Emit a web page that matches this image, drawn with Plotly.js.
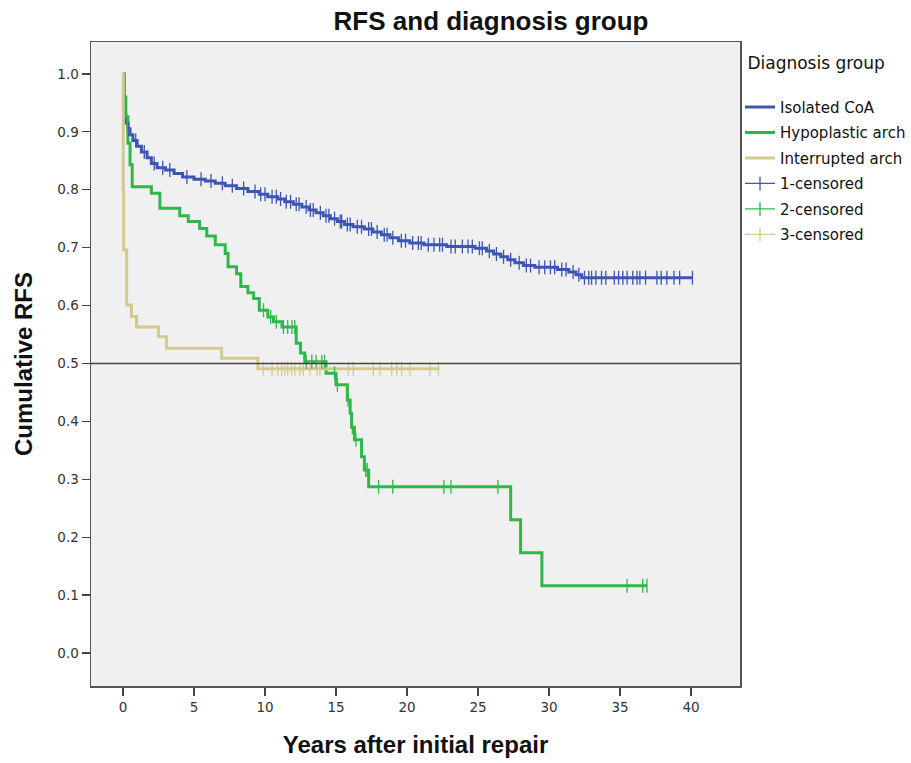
<!DOCTYPE html>
<html>
<head>
<meta charset="utf-8">
<script src="https://cdn.plot.ly/plotly-3.0.1.min.js"></script>
<style>html,body{margin:0;padding:0;background:#fff;}#chart{width:911px;height:763px;}</style>
</head>
<body>
<div id="chart"></div>
<script>
// ---- Data ----
const groupNames = ["Isolated CoA", "Hypoplastic arch", "Interrupted arch"];
const censorNames = ["1-censored", "2-censored", "3-censored"];

// Isolated CoA: step times (years) and cumulative RFS after each step
const coaTimes = [0, 0.05, 0.1, 0.2, 0.35, 0.5, 0.7, 1.0, 1.3, 1.7, 2.0, 2.4, 3.0, 3.6, 4.2, 5.0, 5.8, 6.5, 7.2, 8.0, 8.8, 9.6, 10.2, 10.9, 11.4, 12.0, 12.6, 13.1, 13.6, 14.1, 14.6, 15.1, 15.6, 16.2, 17.0, 17.6, 18.2, 18.8, 19.4, 20.2, 21.2, 22.8, 24.8, 25.6, 26.1, 26.6, 27.1, 27.6, 28.2, 29.0, 30.6, 31.4, 31.9, 32.3, 40.1];
const coaRFS = [1.0, 0.95, 0.93, 0.915, 0.905, 0.895, 0.885, 0.875, 0.865, 0.855, 0.845, 0.838, 0.834, 0.828, 0.822, 0.818, 0.815, 0.811, 0.807, 0.802, 0.797, 0.792, 0.788, 0.784, 0.779, 0.775, 0.770, 0.765, 0.760, 0.755, 0.750, 0.745, 0.740, 0.736, 0.732, 0.727, 0.722, 0.717, 0.712, 0.708, 0.705, 0.702, 0.699, 0.694, 0.689, 0.684, 0.679, 0.674, 0.669, 0.666, 0.662, 0.658, 0.653, 0.648, 0.648];
const coaCensored = [0.4, 0.9, 1.5, 2.2, 2.8, 3.3, 4.5, 5.5, 6.2, 7.0, 7.7, 8.5, 9.3, 9.7, 10.0, 10.5, 10.8, 11.1, 11.5, 11.8, 12.2, 12.4, 12.9, 13.2, 13.4, 13.9, 14.3, 14.5, 14.9, 15.3, 15.4, 15.8, 16.0, 16.5, 16.8, 17.3, 17.5, 17.9, 18.4, 18.6, 19.0, 19.6, 19.9, 20.4, 20.8, 21.0, 21.5, 21.9, 22.3, 22.5, 23.1, 23.4, 23.9, 24.3, 24.6, 25.1, 25.3, 25.8, 26.3, 26.8, 27.3, 27.9, 28.4, 28.7, 29.3, 29.7, 30.1, 30.4, 30.9, 31.2, 31.7, 32.1, 32.5, 32.8, 33.0, 33.3, 33.7, 34.0, 34.6, 34.9, 35.2, 35.5, 35.9, 36.2, 36.4, 36.8, 37.6, 37.9, 38.3, 38.8, 39.2, 40.1];

// Hypoplastic arch
const hypoTimes = [0, 0.1, 0.2, 0.35, 0.5, 0.65, 2.0, 2.6, 4.0, 4.6, 5.4, 5.9, 6.5, 7.2, 7.4, 8.0, 8.3, 8.8, 9.2, 9.6, 10.2, 10.6, 11.2, 12.2, 12.5, 12.8, 14.3, 15.0, 15.8, 16.0, 16.1, 16.3, 16.8, 17.0, 17.3, 27.3, 28.0, 29.5, 36.9];
const hypoRFS = [1.0, 0.96, 0.926, 0.88, 0.843, 0.805, 0.794, 0.768, 0.755, 0.745, 0.733, 0.720, 0.705, 0.690, 0.667, 0.655, 0.633, 0.622, 0.612, 0.592, 0.580, 0.572, 0.563, 0.535, 0.518, 0.503, 0.483, 0.463, 0.437, 0.414, 0.390, 0.368, 0.339, 0.316, 0.287, 0.230, 0.173, 0.116, 0.116];
const hypoCensored = [9.9, 10.4, 10.8, 11.3, 11.6, 11.9, 12.1, 12.9, 13.3, 13.6, 14.0, 14.2, 14.9, 15.1, 15.85, 16.15, 16.4, 17.1, 17.2, 18.0, 19.0, 22.6, 23.1, 26.4, 35.5, 36.6, 36.9];

// Interrupted arch
const iaaTimes = [0, 0.02, 0.05, 0.26, 0.6, 0.96, 2.5, 3.07, 6.95, 9.5, 22.3];
const iaaRFS = [1.0, 0.80, 0.696, 0.601, 0.581, 0.563, 0.546, 0.526, 0.509, 0.491, 0.491];
const iaaCensored = [9.88, 10.5, 10.9, 11.18, 11.41, 11.6, 11.88, 12.11, 12.46, 12.7, 13.17, 13.68, 13.87, 15.87, 16.22, 17.63, 18.1, 18.92, 19.28, 19.63, 20.21, 21.62, 22.21];

const xTicks = [0, 5, 10, 15, 20, 25, 30, 35, 40];
const yTicks = [0.0, 0.1, 0.2, 0.3, 0.4, 0.5, 0.6, 0.7, 0.8, 0.9, 1.0];

// ---- Styling ----
const colors = ["#3c56b2", "#2fb84a", "#d4c991"];
const boldFont = "Liberation Sans, Arial, sans-serif";
const textFont = "DejaVu Sans, Verdana, sans-serif";

function stepValue(times, vals, t) {
  let v = vals[0];
  for (let i = 0; i < times.length; i++) { if (times[i] <= t) v = vals[i]; }
  return v;
}
function censorXY(times, vals, cens) {
  const x = [], y = [];
  cens.forEach(t => { x.push(t, null); y.push(stepValue(times, vals, t), null); });
  return {x, y};
}

const curves = [[coaTimes, coaRFS, coaCensored], [hypoTimes, hypoRFS, hypoCensored], [iaaTimes, iaaRFS, iaaCensored]];
const traces = [];
curves.forEach((c, i) => {
  traces.push({
    type: "scatter", mode: "lines", x: c[0], y: c[1], name: groupNames[i],
    line: {shape: "hv", color: colors[i], width: 3}, legendgroup: "g" + i, hoverinfo: "x+y"
  });
});
curves.forEach((c, i) => {
  const cy = censorXY(c[0], c[1], c[2]);
  traces.push({
    type: "scatter", mode: "lines+markers", x: cy.x, y: cy.y, name: censorNames[i],
    connectgaps: false,
    line: {color: colors[i], width: 1.3},
    marker: {symbol: "line-ns", size: 10, line: {color: colors[i], width: 1.3}, color: colors[i]},
    legendgroup: "c" + i
  });
});

const layout = {
  width: 911, height: 763,
  paper_bgcolor: "#ffffff", plot_bgcolor: "#f0f0f0",
  font: {family: textFont, color: "#222", size: 13},
  margin: {l: 91, r: 171, t: 42, b: 77, autoexpand: false},
  title: {text: "<b>RFS and diagnosis group</b>", font: {family: boldFont, size: 26, color: "#111"}, x: 0.539, xref: "container", xanchor: "center", y: 0.973, yref: "container", yanchor: "middle"},
  xaxis: {
    range: [-2.25, 43.45], tickvals: xTicks, ticktext: xTicks.map(String),
    ticks: "outside", ticklen: 8, tickwidth: 1.3, tickcolor: "#444",
    showline: true, linecolor: "#555", linewidth: 1.5, mirror: true,
    showgrid: false, zeroline: false,
    tickfont: {family: textFont, size: 13.5, color: "#333"},
    title: {text: "<b>Years after initial repair</b>", font: {family: boldFont, size: 24, color: "#111"}, standoff: 22}
  },
  yaxis: {
    range: [-0.057, 1.055], tickvals: yTicks, ticktext: yTicks.map(v => v.toFixed(1)),
    ticks: "outside", ticklen: 8, tickwidth: 1.3, tickcolor: "#444",
    showline: true, linecolor: "#555", linewidth: 1.5, mirror: true,
    showgrid: false, zeroline: false,
    tickfont: {family: textFont, size: 13.5, color: "#333"},
    title: {text: "<b>Cumulative RFS</b>", font: {family: boldFont, size: 24, color: "#111"}, standoff: 18}
  },
  shapes: [{type: "line", xref: "paper", yref: "y", x0: 0, x1: 1, y0: 0.5, y1: 0.5, line: {color: "#444", width: 1.5}}],
  legend: {
    x: 1.0, xanchor: "left", y: 0.993, yanchor: "top",
    bgcolor: "rgba(0,0,0,0)", traceorder: "grouped", tracegroupgap: 3,
    font: {family: textFont, size: 15, color: "#111"},
    title: {text: "&nbsp;Diagnosis group<br> ", font: {family: textFont, size: 17, color: "#111"}, side: "top"},
    itemwidth: 30
  },
  showlegend: true
};

Plotly.newPlot("chart", traces, layout, {displayModeBar: false, staticPlot: true});
</script>
</body>
</html>
